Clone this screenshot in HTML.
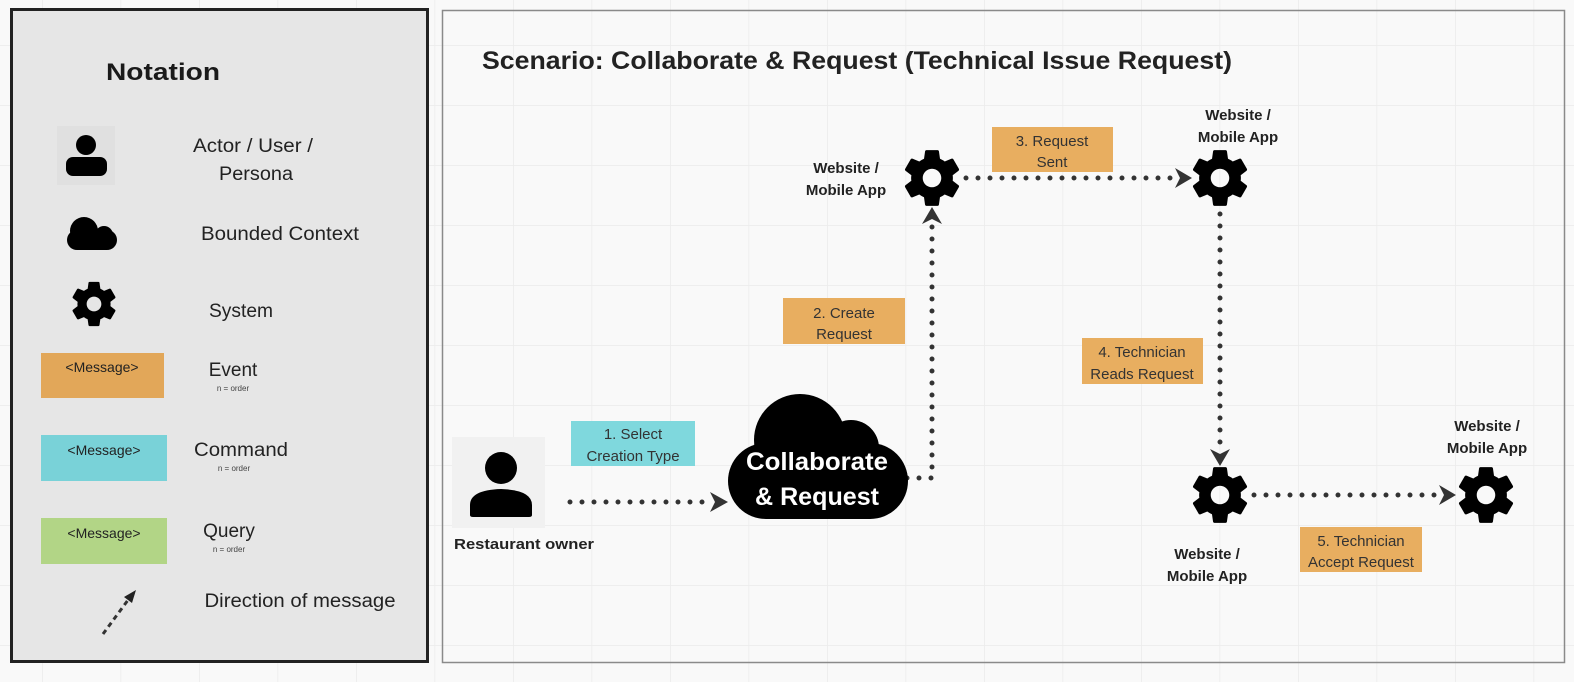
<!DOCTYPE html>
<html><head><meta charset="utf-8"><style>
html,body{margin:0;padding:0;background:#f9f9f9;}
svg{display:block;font-family:"Liberation Sans","DejaVu Sans",sans-serif;}
</style></head><body>
<svg width="1574" height="682" viewBox="0 0 1574 682" xmlns="http://www.w3.org/2000/svg">
<defs>
<pattern id="grid" width="78.5" height="60" patternUnits="userSpaceOnUse" x="42" y="45">
<path d="M0 0 V60 M0 0 H78.5" stroke="#ebebeb" stroke-width="1.5" fill="none"/>
</pattern>
<path id="gear" d="M19.14,12.94c0.04-0.3,0.06-0.61,0.06-0.94c0-0.32-0.02-0.64-0.07-0.94l2.03-1.58c0.18-0.14,0.23-0.41,0.12-0.61l-1.92-3.32c-0.12-0.22-0.37-0.29-0.59-0.22l-2.39,0.96c-0.5-0.38-1.030-0.7-1.62-0.94L14.4,2.81c-0.04-0.24-0.24-0.41-0.48-0.41h-3.84c-0.24,0-0.43,0.17-0.47,0.41L9.25,5.35C8.66,5.59,8.12,5.92,7.63,6.29L5.240,5.33c-0.22-0.08-0.47,0-0.59,0.22L2.74,8.87C2.62,9.08,2.66,9.34,2.86,9.48l2.03,1.58C4.84,11.36,4.8,11.69,4.8,12s0.02,0.64,0.07,0.94l-2.03,1.58c-0.18,0.14-0.23,0.41-0.12,0.61l1.92,3.32c0.12,0.22,0.37,0.29,0.59,0.22l2.39-0.96c0.5,0.38,1.03,0.7,1.62,0.94l0.36,2.54c0.05,0.24,0.24,0.41,0.48,0.41h3.84c0.24,0,0.44-0.17,0.47-0.41l0.36-2.540c0.59-0.24,1.13-0.56,1.62-0.94l2.39,0.96c0.22,0.08,0.47,0,0.59-0.22l1.92-3.32c0.12-0.22,0.07-0.47-0.12-0.61L19.14,12.94z M12,15.2c-1.77,0-3.2-1.43-3.2-3.2s1.43-3.2,3.2-3.2s3.2,1.43,3.2,3.2S13.77,15.2,12,15.2z"/>
</defs>
<rect width="1574" height="682" fill="#f9f9f9"/>
<rect width="1574" height="682" fill="url(#grid)"/>

<!-- Notation panel -->
<rect x="11.5" y="9.5" width="416" height="652" fill="#e6e6e6" stroke="#222" stroke-width="3"/>
<text x="163" y="80" font-size="24" font-weight="bold" text-anchor="middle" fill="#1a1a1a" textLength="114" lengthAdjust="spacingAndGlyphs">Notation</text>
<rect x="57" y="126" width="58" height="59" fill="#e0e0e0"/>
<circle cx="86" cy="145" r="10" fill="#000"/>
<rect x="66" y="157" width="41" height="19" rx="7" fill="#000"/>
<text x="253" y="152" font-size="19" text-anchor="middle" fill="#222" textLength="120" lengthAdjust="spacingAndGlyphs">Actor / User /</text>
<text x="256" y="180" font-size="19" text-anchor="middle" fill="#222" textLength="74" lengthAdjust="spacingAndGlyphs">Persona</text>
<g fill="#000"><rect x="67" y="230" width="50" height="20" rx="10"/><circle cx="84" cy="231" r="14"/><circle cx="104" cy="235" r="9"/></g>
<text x="280" y="240" font-size="19" text-anchor="middle" fill="#222" textLength="158" lengthAdjust="spacingAndGlyphs">Bounded Context</text>
<use href="#gear" transform="translate(66.4,276.4) scale(2.3)" fill="#000"/>
<text x="241" y="317" font-size="19" text-anchor="middle" fill="#222" textLength="64" lengthAdjust="spacingAndGlyphs">System</text>
<rect x="41" y="353" width="123" height="45" fill="#e2a759"/>
<text x="102" y="372" font-size="14" text-anchor="middle" fill="#222">&lt;Message&gt;</text>
<text x="233" y="376" font-size="19" text-anchor="middle" fill="#222">Event</text>
<text x="233" y="391" font-size="8" text-anchor="middle" fill="#444">n =  order</text>
<rect x="41" y="435" width="126" height="46" fill="#79d2d8"/>
<text x="104" y="455" font-size="14" text-anchor="middle" fill="#222">&lt;Message&gt;</text>
<text x="241" y="456" font-size="19" text-anchor="middle" fill="#222" textLength="94" lengthAdjust="spacingAndGlyphs">Command</text>
<text x="234" y="471" font-size="8" text-anchor="middle" fill="#444">n =  order</text>
<rect x="41" y="518" width="126" height="46" fill="#b2d586"/>
<text x="104" y="538" font-size="14" text-anchor="middle" fill="#222">&lt;Message&gt;</text>
<text x="229" y="537" font-size="19" text-anchor="middle" fill="#222">Query</text>
<text x="229" y="552" font-size="8" text-anchor="middle" fill="#444">n =  order</text>
<line x1="103" y1="634" x2="128" y2="600" stroke="#333" stroke-width="3" stroke-dasharray="5,4"/>
<polygon points="136,590 124,597 132,603" fill="#222"/>
<text x="300" y="607" font-size="19" text-anchor="middle" fill="#222" textLength="191" lengthAdjust="spacingAndGlyphs">Direction of message</text>

<!-- Main panel -->
<rect x="442.5" y="10.5" width="1122" height="652" fill="none" stroke="#8a8a8a" stroke-width="1.5"/>
<text x="482" y="69" font-size="25" font-weight="bold" fill="#222" textLength="750" lengthAdjust="spacingAndGlyphs">Scenario: Collaborate &amp; Request (Technical Issue Request)</text>

<!-- connectors -->
<g stroke="#333" stroke-width="5" stroke-linecap="round" stroke-dasharray="0,12" fill="none">
<line x1="570" y1="502" x2="712" y2="502"/>
<polyline points="895,478 932,478 932,226"/>
<line x1="966" y1="178" x2="1176" y2="178"/>
<line x1="1220" y1="214" x2="1220" y2="450"/>
<line x1="1254" y1="495" x2="1440" y2="495"/>
</g>
<g fill="#333">
<polygon points="710,492 728,502 710,512 715,502"/>
<polygon points="922,224 932,207 942,224 932,219"/>
<polygon points="1175,168 1192,178 1175,188 1180,178"/>
<polygon points="1210,449 1220,466 1230,449 1220,454"/>
<polygon points="1439,485 1456,495 1439,505 1444,495"/>
</g>

<!-- person -->
<rect x="452" y="437" width="93" height="91" fill="#f1f1f1"/>
<circle cx="501" cy="468" r="16" fill="#000"/>
<path d="M470 515 V505 Q470 490 501 489 Q532 490 532 505 V515 Q532 517 529 517 H473 Q470 517 470 515Z" fill="#000"/>
<text x="524" y="549" font-size="15" font-weight="bold" text-anchor="middle" fill="#222" textLength="140" lengthAdjust="spacingAndGlyphs">Restaurant owner</text>

<!-- cloud -->
<g fill="#000">
<rect x="728" y="443" width="180" height="76" rx="38"/>
<circle cx="800" cy="440" r="46"/>
<circle cx="851" cy="448" r="28"/>
</g>
<text x="817" y="470" font-size="25" font-weight="bold" text-anchor="middle" fill="#fff" textLength="142" lengthAdjust="spacingAndGlyphs">Collaborate</text>
<text x="817" y="505" font-size="25" font-weight="bold" text-anchor="middle" fill="#fff" textLength="124" lengthAdjust="spacingAndGlyphs">&amp; Request</text>

<!-- gears -->
<use href="#gear" transform="translate(897.2,143.2) scale(2.9)" fill="#000"/>
<use href="#gear" transform="translate(1185.2,143.2) scale(2.9)" fill="#000"/>
<use href="#gear" transform="translate(1185.2,460.2) scale(2.9)" fill="#000"/>
<use href="#gear" transform="translate(1451.2,460.2) scale(2.9)" fill="#000"/>

<g font-size="15" font-weight="bold" text-anchor="middle" fill="#222">
<text x="846" y="173">Website /</text><text x="846" y="195">Mobile App</text>
<text x="1238" y="120">Website /</text><text x="1238" y="142">Mobile App</text>
<text x="1207" y="559">Website /</text><text x="1207" y="581">Mobile App</text>
<text x="1487" y="431">Website /</text><text x="1487" y="453">Mobile App</text>
</g>

<!-- labels -->
<g font-size="15" text-anchor="middle" fill="#333">
<rect x="571" y="421" width="124" height="45" fill="#7fd8dd"/>
<text x="633" y="439">1. Select</text><text x="633" y="461">Creation Type</text>
<rect x="783" y="298" width="122" height="46" fill="#e8ae60"/>
<text x="844" y="318">2. Create</text><text x="844" y="339">Request</text>
<rect x="992" y="127" width="121" height="45" fill="#e8ae60"/>
<text x="1052" y="146">3. Request</text><text x="1052" y="167">Sent</text>
<rect x="1082" y="338" width="121" height="46" fill="#e8ae60"/>
<text x="1142" y="357">4. Technician</text><text x="1142" y="379">Reads Request</text>
<rect x="1300" y="527" width="122" height="45" fill="#e8ae60"/>
<text x="1361" y="546">5. Technician</text><text x="1361" y="567">Accept Request</text>
</g>
</svg>
</body></html>
